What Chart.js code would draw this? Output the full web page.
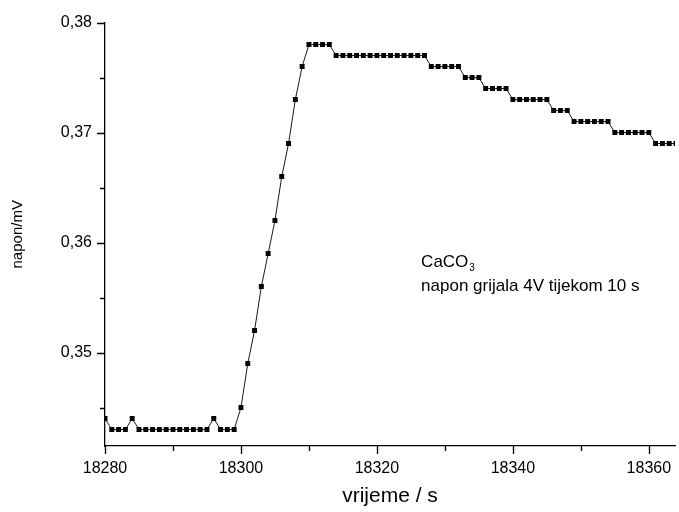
<!DOCTYPE html>
<html>
<head>
<meta charset="utf-8">
<script src="https://cdn.jsdelivr.net/npm/chart.js@4"></script>
<style>
  html, body { margin: 0; padding: 0; background: #fff; }
  #wrap { width: 679px; height: 512px; }
</style>
</head>
<body>
<div id="wrap"><canvas id="chart"></canvas></div>
<script>
// Time (s) of each sample
const times = [
  18280, 18281, 18282, 18283, 18284, 18285, 18286, 18287, 18288, 18289,
  18290, 18291, 18292, 18293, 18294, 18295, 18296, 18297, 18298, 18299,
  18300, 18301, 18302, 18303, 18304, 18305, 18306, 18307, 18308, 18309,
  18310, 18311, 18312, 18313, 18314, 18315, 18316, 18317, 18318, 18319,
  18320, 18321, 18322, 18323, 18324, 18325, 18326, 18327, 18328, 18329,
  18330, 18331, 18332, 18333, 18334, 18335, 18336, 18337, 18338, 18339,
  18340, 18341, 18342, 18343, 18344, 18345, 18346, 18347, 18348, 18349,
  18350, 18351, 18352, 18353, 18354, 18355, 18356, 18357, 18358, 18359,
  18360, 18361, 18362, 18363, 18364
];

// Measured voltage (mV) at each time
const napon = [
  0.344, 0.343, 0.343, 0.343, 0.344, 0.343, 0.343, 0.343, 0.343, 0.343,
  0.343, 0.343, 0.343, 0.343, 0.343, 0.343, 0.344, 0.343, 0.343, 0.343,
  0.345, 0.349, 0.352, 0.356, 0.359, 0.362, 0.366, 0.369, 0.373, 0.376,
  0.378, 0.378, 0.378, 0.378, 0.377, 0.377, 0.377, 0.377, 0.377, 0.377,
  0.377, 0.377, 0.377, 0.377, 0.377, 0.377, 0.377, 0.377, 0.376, 0.376,
  0.376, 0.376, 0.376, 0.375, 0.375, 0.375, 0.374, 0.374, 0.374, 0.374,
  0.373, 0.373, 0.373, 0.373, 0.373, 0.373, 0.372, 0.372, 0.372, 0.371,
  0.371, 0.371, 0.371, 0.371, 0.371, 0.370, 0.370, 0.370, 0.370, 0.370,
  0.370, 0.369, 0.369, 0.369, 0.369
];

// Tick positions (major ones get labels)
const xTicks = [18280, 18290, 18300, 18310, 18320, 18330, 18340, 18350, 18360];
const xLabelTicks = [18280, 18300, 18320, 18340, 18360];
const yTicks = [0.345, 0.35, 0.355, 0.36, 0.365, 0.37, 0.375, 0.38];
const yLabelTicks = [0.35, 0.36, 0.37, 0.38];

const noteTitle = 'CaCO';
const noteSub = '3';
const noteLine = 'napon grijala 4V tijekom 10 s';

const FONT = "'Liberation Sans', Arial, sans-serif";

const points = times.map((t, i) => ({ x: t, y: napon[i] }));

function isMajor(list, v) {
  return list.some(m => Math.abs(m - v) < 1e-9);
}

// Draws the outward tick marks and the text note
const extrasPlugin = {
  id: 'extras',
  afterDraw(chart) {
    const ctx = chart.ctx;
    const xs = chart.scales.x;
    const ys = chart.scales.y;
    const area = chart.chartArea;
    ctx.save();
    ctx.strokeStyle = '#000';
    ctx.lineWidth = 1.3;
    ctx.beginPath();
    xTicks.forEach(v => {
      const px = Math.round(xs.getPixelForValue(v)) + 0.5;
      const len = isMajor(xLabelTicks, v) ? 8 : 5;
      ctx.moveTo(px, area.bottom);
      ctx.lineTo(px, area.bottom + len);
    });
    yTicks.forEach(v => {
      const py = Math.round(ys.getPixelForValue(v)) + 0.5;
      const len = isMajor(yLabelTicks, v) ? 8 : 5;
      ctx.moveTo(area.left, py);
      ctx.lineTo(area.left - len, py);
    });
    ctx.stroke();

    // note text
    ctx.fillStyle = '#000';
    ctx.textBaseline = 'alphabetic';
    ctx.textAlign = 'left';
    const nx = xs.getPixelForValue(18326.5);
    const ny1 = ys.getPixelForValue(0.35782);
    const ny2 = ys.getPixelForValue(0.35556);
    ctx.font = '17px ' + FONT;
    ctx.fillText(noteTitle, nx, ny1);
    const w = ctx.measureText(noteTitle).width;
    ctx.font = '10px ' + FONT;
    ctx.fillText(noteSub, nx + w + 1, ny1 + 4);
    ctx.font = '17px ' + FONT;
    ctx.fillText(noteLine, nx, ny2);
    ctx.restore();
  }
};

new Chart(document.getElementById('chart'), {
  type: 'line',
  data: {
    datasets: [{
      data: points,
      borderColor: '#1a1a1a',
      borderWidth: 1,
      pointStyle: 'rect',
      pointRadius: 3.5,
      pointBackgroundColor: '#000',
      pointBorderWidth: 0,
      tension: 0,
      clip: { left: 0, right: 0, top: 6, bottom: 6 }
    }]
  },
  options: {
    responsive: true,
    maintainAspectRatio: false,
    animation: false,
    events: [],
    layout: { padding: { top: 21, right: 0, bottom: 0, left: 0 } },
    plugins: {
      legend: { display: false },
      tooltip: { enabled: false }
    },
    scales: {
      x: {
        type: 'linear',
        min: 18280,
        max: 18363.85,
        afterBuildTicks: s => { s.ticks = xTicks.map(v => ({ value: v })); },
        afterFit: s => { s.height = 66; s.paddingLeft = 0; s.paddingRight = 0; },
        grid: { display: false, drawTicks: false },
        border: { display: true, color: '#000', width: 1.3 },
        ticks: {
          autoSkip: false,
          maxRotation: 0,
          padding: 13,
          color: '#000',
          font: { family: FONT, size: 16 },
          callback: v => isMajor(xLabelTicks, v) ? String(v) : ''
        },
        title: {
          display: true,
          text: 'vrijeme / s',
          color: '#000',
          font: { family: FONT, size: 21 },
          padding: { top: 0, bottom: 3 }
        }
      },
      y: {
        type: 'linear',
        min: 0.3415,
        max: 0.38,
        afterBuildTicks: s => { s.ticks = yTicks.map(v => ({ value: v })); },
        afterFit: s => { s.width = 105; },
        grid: { display: false, drawTicks: false },
        border: { display: true, color: '#000', width: 1.3 },
        ticks: {
          autoSkip: false,
          padding: 13,
          color: '#000',
          font: { family: FONT, size: 16 },
          callback: v => isMajor(yLabelTicks, v) ? v.toFixed(2).replace('.', ',') : ''
        },
        title: {
          display: true,
          text: 'napon/mV',
          color: '#000',
          font: { family: FONT, size: 15 },
          padding: { top: 9, bottom: 0 }
        }
      }
    }
  },
  plugins: [extrasPlugin]
});
</script>
</body>
</html>
